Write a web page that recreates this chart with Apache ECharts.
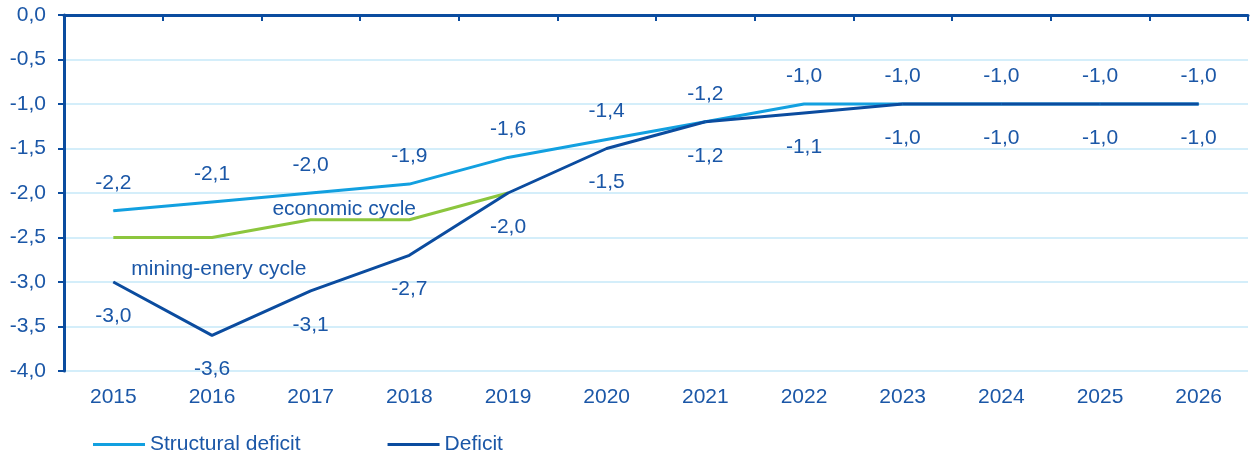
<!DOCTYPE html>
<html><head><meta charset="utf-8">
<script src="https://cdn.jsdelivr.net/npm/echarts@6/dist/echarts.min.js"></script>
<style>html,body{margin:0;padding:0;background:#fff}#c{width:1252px;height:456px}</style>
</head><body><div id="c"></div>
<script>
const years = ['2015','2016','2017','2018','2019','2020','2021','2022','2023','2024','2025','2026'];
const structuralDeficit = [-2.2,-2.1,-2.0,-1.9,-1.6,-1.4,-1.2,-1.0,-1.0,-1.0,-1.0,-1.0];
const deficit = [-3.0,-3.6,-3.1,-2.7,-2.0,-1.5,-1.2,-1.1,-1.0,-1.0,-1.0,-1.0];
const economicCycle = [-2.5,-2.5,-2.3,-2.3,-2.0,null,null,null,null,null,null,null];
const annotations = [
  {text:'economic cycle', cat:2.34, value:-2.18},
  {text:'mining-enery cycle', cat:1.07, value:-2.855}
];
const TXT = '#1b57a7', AX = '#0b4c9f', GRID = '#c6e9f8';
const FONT = 'Liberation Sans, Arial, sans-serif';
const FS = 21;
const fmt = v => Number(v).toFixed(1).replace('.', ',');
const chart = echarts.init(document.getElementById('c'));
chart.setOption({
  animation:false,
  textStyle:{fontFamily:FONT},
  grid:{left:64,right:4,top:15,bottom:85,containLabel:false},
  legend:{
    data:['Structural deficit','Deficit'],left:88,top:429,icon:'rect',itemWidth:52,itemHeight:3,itemGap:87,
    textStyle:{color:TXT,fontSize:FS,fontFamily:FONT}
  },
  xAxis:[
    {type:'category',data:years,position:'bottom',boundaryGap:true,
     axisLine:{show:false},axisTick:{show:false},
     axisLabel:{color:TXT,fontSize:FS,margin:16,fontFamily:FONT}},
    {type:'category',data:years,position:'top',boundaryGap:true,
     axisLine:{show:true,lineStyle:{color:AX,width:3}},
     axisTick:{show:true,inside:true,length:6,lineStyle:{color:AX,width:2}},
     axisLabel:{show:false}}
  ],
  yAxis:{type:'value',min:-4,max:0,interval:0.5,
    axisLine:{show:true,lineStyle:{color:AX,width:3}},
    axisTick:{show:true,length:6,lineStyle:{color:AX,width:2}},
    splitLine:{show:true,lineStyle:{color:GRID,width:1.5}},
    axisLabel:{color:TXT,fontSize:FS,margin:18,fontFamily:FONT,formatter:v=>fmt(v)}
  },
  series:[
    {name:'economic cycle',type:'line',data:economicCycle,symbol:'none',
     lineStyle:{color:'#8cc63e',width:3},itemStyle:{color:'#8cc63e'},connectNulls:false},
    {name:'Structural deficit',type:'line',data:structuralDeficit,symbol:'circle',symbolSize:1,showSymbol:true,
     lineStyle:{color:'#12a0e0',width:3},itemStyle:{color:'#12a0e0'},
     label:{show:true,position:'top',distance:17,color:TXT,fontSize:FS,fontFamily:FONT,formatter:p=>fmt(p.value)}},
    {name:'Deficit',type:'line',data:deficit,symbol:'circle',symbolSize:1,showSymbol:true,
     lineStyle:{color:AX,width:3},itemStyle:{color:AX},
     label:{show:true,position:'bottom',distance:23,color:TXT,fontSize:FS,fontFamily:FONT,formatter:p=>fmt(p.value)}}
  ]
});
const gfx = annotations.map(a=>{
  const i = Math.floor(a.cat), f = a.cat - i;
  const p0 = chart.convertToPixel({xAxisIndex:0,yAxisIndex:0},[i,a.value]);
  const p1 = chart.convertToPixel({xAxisIndex:0,yAxisIndex:0},[i+1,a.value]);
  return {type:'text',x:p0[0]+(p1[0]-p0[0])*f,y:p0[1],
    style:{text:a.text,fill:TXT,font:FS+'px '+FONT,textAlign:'center',textVerticalAlign:'middle'}};
});
chart.setOption({graphic:gfx});
</script></body></html>
